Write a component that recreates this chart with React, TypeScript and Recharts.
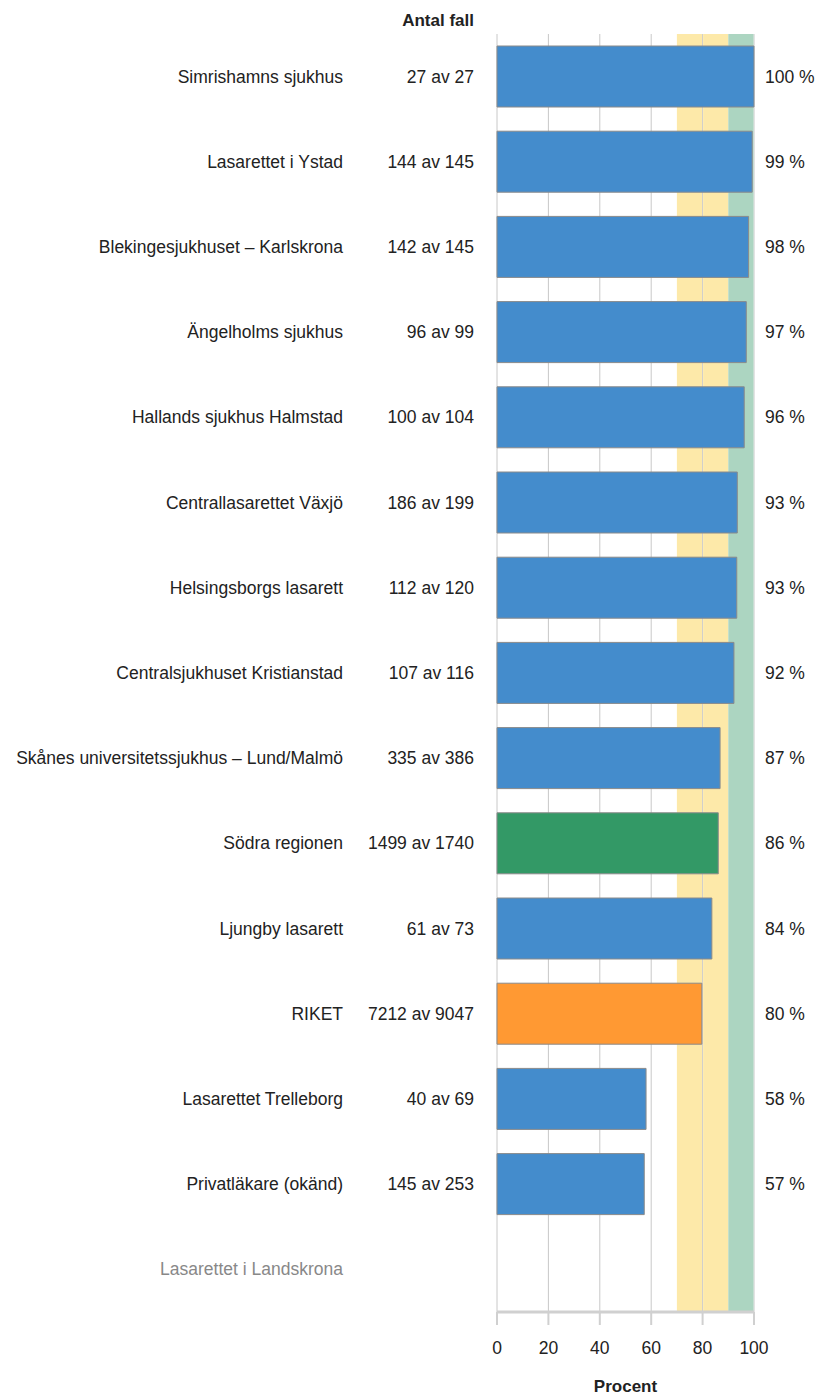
import React from "react"
import {
  BarChart,
  Bar,
  Cell,
  XAxis,
  YAxis,
  CartesianGrid,
  ReferenceArea,
} from "recharts"

const HOSPITALS = [
  "Simrishamns sjukhus",
  "Lasarettet i Ystad",
  "Blekingesjukhuset – Karlskrona",
  "Ängelholms sjukhus",
  "Hallands sjukhus Halmstad",
  "Centrallasarettet Växjö",
  "Helsingsborgs lasarett",
  "Centralsjukhuset Kristianstad",
  "Skånes universitetssjukhus – Lund/Malmö",
  "Södra regionen",
  "Ljungby lasarett",
  "RIKET",
  "Lasarettet Trelleborg",
  "Privatläkare (okänd)",
  "Lasarettet i Landskrona",
]

const CASES = [27, 144, 142, 96, 100, 186, 112, 107, 335, 1499, 61, 7212, 40, 145, null]
const TOTALS = [27, 145, 145, 99, 104, 199, 120, 116, 386, 1740, 73, 9047, 69, 253, null]
const PERCENT = [100, 99.3, 97.9, 97.0, 96.2, 93.5, 93.3, 92.2, 86.8, 86.1, 83.6, 79.7, 58.0, 57.3, null]
const PERCENT_LABEL = ["100 %", "99 %", "98 %", "97 %", "96 %", "93 %", "93 %", "92 %", "87 %", "86 %", "84 %", "80 %", "58 %", "57 %", ""]
const KIND = ["unit", "unit", "unit", "unit", "unit", "unit", "unit", "unit", "unit", "region", "unit", "nation", "unit", "unit", "unit"]

const X_TICKS = [0, 20, 40, 60, 80, 100]

// target zones: yellow 70–90, green 90–100 (split at the grid ticks so the grid shows through)
const ZONES = [
  { x1: 70, x2: 79.8, fill: "#fde9a9" },
  { x1: 80.2, x2: 90, fill: "#fde9a9" },
  { x1: 90, x2: 99.8, fill: "#acd5c1" },
]

const COLORS: Record<string, string> = {
  unit: "#448ccc",
  region: "#339966",
  nation: "#ff9933",
}

const data = HOSPITALS.map((name, i) => ({
  name,
  value: PERCENT[i],
  cases: CASES[i],
  total: TOTALS[i],
  label: PERCENT_LABEL[i],
  kind: KIND[i],
}))

const FONT = "'Liberation Sans', Arial, sans-serif"
const FS = 17.5

function rowFor(payload: { value: string }) {
  return data.find((d) => d.name === payload.value)
}

// eslint-disable-next-line @typescript-eslint/no-explicit-any
function LeftTick({ y, payload }: any) {
  const row = rowFor(payload)
  const missing = row?.value == null
  return (
    <g>
      <text x={343} y={y} dy={6} textAnchor="end" fontSize={FS} fill={missing ? "#888" : "#222"} fontFamily={FONT}>
        {payload.value}
      </text>
      {!missing && row && (
        <text x={474} y={y} dy={6} textAnchor="end" fontSize={FS} fill="#222" fontFamily={FONT}>
          {`${row.cases} av ${row.total}`}
        </text>
      )}
    </g>
  )
}

// eslint-disable-next-line @typescript-eslint/no-explicit-any
function RightTick({ y, payload }: any) {
  const row = rowFor(payload)
  if (!row || row.value == null) return null
  return (
    <text x={765} y={y} dy={6} textAnchor="start" fontSize={FS} fill="#222" fontFamily={FONT}>
      {row.label}
    </text>
  )
}

export default function App() {
  return (
    <div style={{ position: "absolute", left: 0, top: 0, width: 816, height: 1398, background: "#fff" }}>
      <div
        style={{
          position: "absolute",
          left: 374,
          top: 11,
          width: 100,
          textAlign: "right",
          fontFamily: FONT,
          fontWeight: 700,
          fontSize: 17,
          lineHeight: "20px",
          color: "#222",
        }}
      >
        Antal fall
      </div>
      <BarChart
        width={816}
        height={1398}
        data={data}
        layout="vertical"
        margin={{ top: 34, right: 0, left: 0, bottom: 0 }}
        barSize={61}
      >
        <CartesianGrid xAxisId="x" yAxisId="left" horizontal={false} stroke="#c8c8c8" verticalValues={X_TICKS} />
        {ZONES.map((z, i) => (
          <ReferenceArea key={i} xAxisId="x" yAxisId="left" x1={z.x1} x2={z.x2} fill={z.fill} fillOpacity={1} stroke="none" />
        ))}
        <XAxis
          xAxisId="x"
          type="number"
          domain={[0, 100]}
          ticks={X_TICKS}
          height={86}
          axisLine={{ stroke: "#d0d0d0", strokeWidth: 3 }}
          tickLine={{ stroke: "#d0d0d0", strokeWidth: 2 }}
          tickSize={13}
          tickMargin={17}
          tick={{ fontSize: FS, fill: "#222", fontFamily: FONT }}
          label={{ value: "Procent", position: "insideBottom", offset: 6, fontSize: 17, fontWeight: 700, fill: "#222", fontFamily: FONT }}
        />
        <YAxis
          yAxisId="left"
          type="category"
          dataKey="name"
          width={497}
          axisLine={false}
          tickLine={false}
          interval={0}
          tick={<LeftTick />}
        />
        <YAxis
          yAxisId="right"
          orientation="right"
          type="category"
          dataKey="name"
          width={62}
          axisLine={false}
          tickLine={false}
          interval={0}
          tick={<RightTick />}
        />
        <Bar xAxisId="x" yAxisId="left" dataKey="value" stroke="#8a8a8a" strokeWidth={1} isAnimationActive={false}>
          {data.map((d, i) => (
            <Cell key={i} fill={COLORS[d.kind]} />
          ))}
        </Bar>
      </BarChart>
    </div>
  )
}
